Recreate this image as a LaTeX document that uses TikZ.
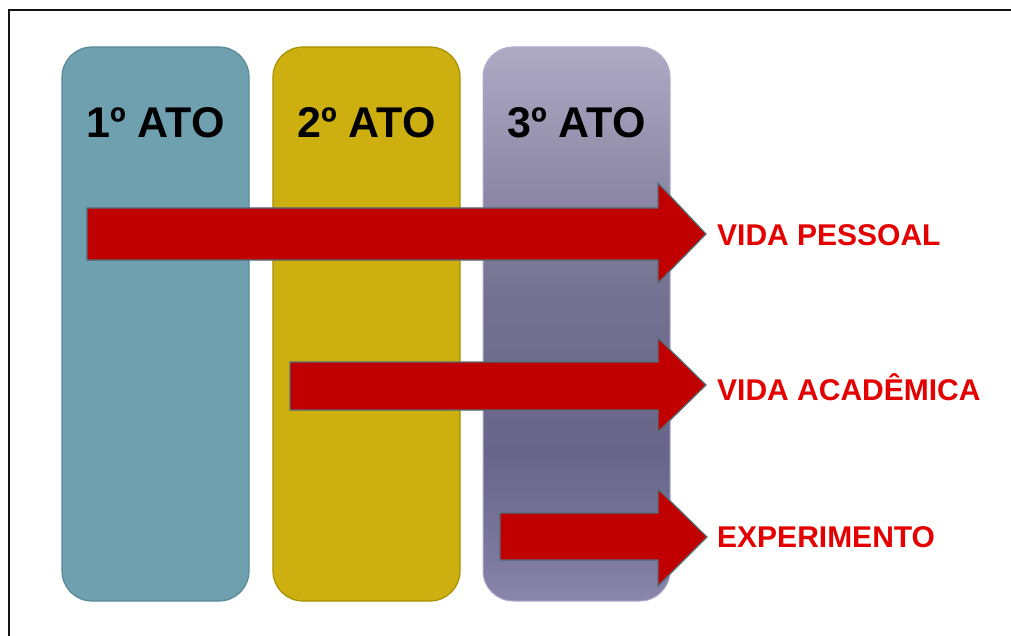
\documentclass[tikz,border=0pt]{standalone}
\usepackage{fontspec}
\setmainfont{Liberation Sans}
\definecolor{actone}{RGB}{111,160,176}
\definecolor{actoneedge}{RGB}{90,138,152}
\definecolor{acttwo}{RGB}{205,176,16}
\definecolor{acttwoedge}{RGB}{168,144,0}
\definecolor{actthreeedge}{RGB}{176,172,208}
\definecolor{arrowred}{RGB}{192,0,0}
\definecolor{arrowedge}{RGB}{80,112,120}
\definecolor{labelred}{RGB}{228,0,0}
\definecolor{frameline}{RGB}{20,20,20}
\pgfdeclareverticalshading{actthreeshade}{100bp}{%
  color(0bp)=(rgb,255:red,138;green,134;blue,172);
  color(25bp)=(rgb,255:red,138;green,134;blue,172);
  color(28.5bp)=(rgb,255:red,125;green,121;blue,160);
  color(38.5bp)=(rgb,255:red,104;green,101;blue,138);
  color(52bp)=(rgb,255:red,115;green,112;blue,144);
  color(63bp)=(rgb,255:red,143;green,139;blue,168);
  color(75bp)=(rgb,255:red,174;green,170;blue,196);
  color(100bp)=(rgb,255:red,174;green,170;blue,196)}
\tikzset{
  actbox/.style={rounded corners=30pt, line width=1.2pt},
  acttitle/.style={font=\bfseries\fontsize{43}{43}\selectfont, text=black, anchor=base, inner sep=0pt},
  blockarrow/.style={fill=arrowred, draw=arrowedge, line width=1.2pt, line join=miter},
  arrowlabel/.style={font=\bfseries\fontsize{30}{30}\selectfont, text=labelred, anchor=west, inner sep=0pt}
}
\begin{document}
\begin{tikzpicture}[x=1pt,y=-1pt]
\useasboundingbox (0,0) rectangle (1011,636);
\fill[white] (0,0) rectangle (1011,636);
% open frame: top and left rules
\draw[frameline, line width=2pt] (1011,10.5) -- (8.5,10.5) -- (8.5,636);

% the three acts
\filldraw[actbox, fill=actone, draw=actoneedge] (62,47) rectangle (249,601);
\filldraw[actbox, fill=acttwo, draw=acttwoedge] (273,47) rectangle (460,601);
\shade[actbox, shading=actthreeshade] (483,47) rectangle (670,601);
\draw[actbox, draw=actthreeedge, line width=1pt] (483,47) rectangle (670,601);

\node[acttitle] (act1) at (155.5,138) {1º ATO};
\node[acttitle] (act2) at (366.5,138) {2º ATO};
\node[acttitle] (act3) at (576.5,138) {3º ATO};

% block arrows and their labels
\node[arrowlabel] (pessoal) at (717,235) {VIDA PESSOAL};
\node[arrowlabel] (academica) at (717,387) {VIDA ACADÊMICA};
\node[arrowlabel] (experimento) at (717,537) {EXPERIMENTO};

\coordinate (tip1) at (706,234);
\coordinate (tip2) at (706,385);
\coordinate (tip3) at (707,537);

\draw[blockarrow] (87,208) -- (658,208) -- (658,183) -- (tip1) -- (658,283) -- (658,260) -- (87,260) -- cycle;
\draw[blockarrow] (290,362) -- (658,362) -- (658,338) -- (tip2) -- (658,432) -- (658,410) -- (290,410) -- cycle;
\draw[blockarrow] (500,513) -- (658,513) -- (658,489) -- (tip3) -- (658,586) -- (658,560) -- (500,560) -- cycle;
\end{tikzpicture}
\end{document}
